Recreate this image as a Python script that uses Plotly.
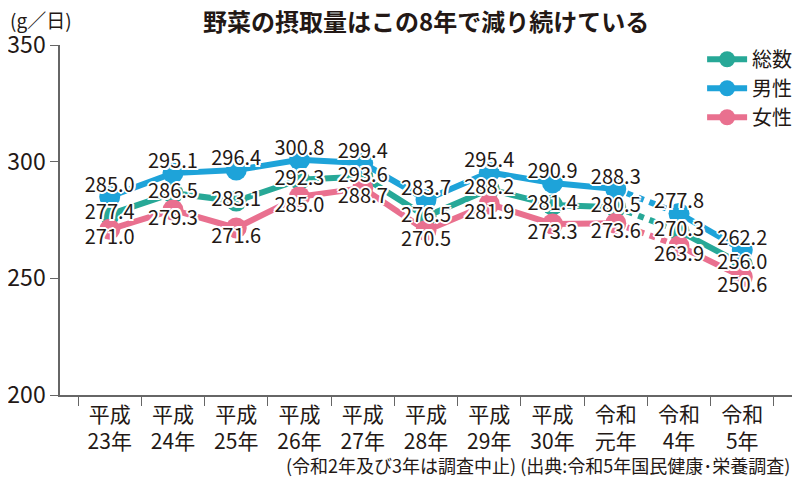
import plotly.graph_objects as go

years = ["平成<br>23年", "平成<br>24年", "平成<br>25年", "平成<br>26年", "平成<br>27年", "平成<br>28年",
         "平成<br>29年", "平成<br>30年", "令和<br>元年", "令和<br>4年", "令和<br>5年"]
total = [277.4, 286.5, 283.1, 292.3, 293.6, 276.5, 288.2, 281.4, 280.5, 270.3, 256.0]
male = [285.0, 295.1, 296.4, 300.8, 299.4, 283.7, 295.4, 290.9, 288.3, 277.8, 262.2]
female = [271.0, 279.3, 271.6, 285.0, 288.7, 270.5, 281.9, 273.3, 273.6, 263.9, 250.6]

FONT = "Noto Sans CJK JP"
TXT = "#231815"
series = [
    ("総数", total, "#27a897", "middle center"),
    ("男性", male, "#1ea3d9", "top center"),
    ("女性", female, "#e9708f", "bottom center"),
]

fig = go.Figure()

# lines: solid up to 令和元年, dotted over the gap, solid again after
for name, vals, col, _ in series:
    fig.add_trace(go.Scatter(x=years[:9], y=vals[:9], mode="lines+markers", name=name,
                             line=dict(color=col, width=6), marker=dict(size=21, color=col)))
    fig.add_trace(go.Scatter(x=years[8:10], y=vals[8:10], mode="lines", showlegend=False,
                             line=dict(color=col, width=6, dash="dot")))
    fig.add_trace(go.Scatter(x=years[9:], y=vals[9:], mode="lines+markers", showlegend=False,
                             line=dict(color=col, width=6), marker=dict(size=21, color=col)))

halo = ("white 2px 0px 0px, white -2px 0px 0px, white 0px 2px 0px, white 0px -2px 0px, "
        "white 1.5px 1.5px 0px, white -1.5px -1.5px 0px, white 1.5px -1.5px 0px, white -1.5px 1.5px 0px")
for name, vals, col, pos in series:
    fig.add_trace(go.Scatter(x=years, y=vals, mode="text", showlegend=False,
                             text=[f"{v:.1f}" for v in vals], textposition=pos,
                             textfont=dict(family=FONT, size=20, color=TXT, shadow=halo)))

# page is drawn 8px in from the window corner, margins compensate for that
fig.update_layout(
    width=800, height=477,
    margin=dict(l=52, r=15, t=37, b=90),
    paper_bgcolor="white", plot_bgcolor="white",
    font=dict(family=FONT, color=TXT),
    showlegend=True,
    legend=dict(x=0.876, xanchor="left", y=1.015, yanchor="top", font=dict(size=20),
                bgcolor="rgba(0,0,0,0)", itemwidth=40, tracegroupgap=0),
)
fig.update_xaxes(type="category", tickson="boundaries", ticks="outside", ticklen=9,
                 tickcolor="#666", showline=True, linecolor="#666", linewidth=1.5,
                 showgrid=False, automargin=False, tickfont=dict(size=21, color=TXT))
fig.update_yaxes(range=[200, 350], tickvals=[200, 250, 300, 350], ticks="outside", ticklen=8,
                 tickcolor="#666", showline=True, linecolor="#666", linewidth=1.5,
                 showgrid=False, zeroline=False, automargin=False, tickfont=dict(size=23, color=TXT))

fig.add_annotation(text="野菜の摂取量はこの8年で減り続けている", xref="paper", yref="paper",
                   x=0.5, y=1, yshift=25, yanchor="middle", showarrow=False,
                   font=dict(size=24, weight="bold", color=TXT))
fig.add_annotation(text="(g／日)", xref="paper", yref="paper", x=0, xshift=-52, xanchor="left",
                   y=1, yshift=26, yanchor="middle", showarrow=False, font=dict(size=19, color=TXT))
fig.add_annotation(text="(令和2年及び3年は調査中止) (出典:令和5年国民健康･栄養調査)", xref="paper", yref="paper",
                   x=1, xanchor="right", y=0, yshift=-70, yanchor="middle", showarrow=False,
                   font=dict(size=18, color=TXT))

fig.write_html("out.html")
